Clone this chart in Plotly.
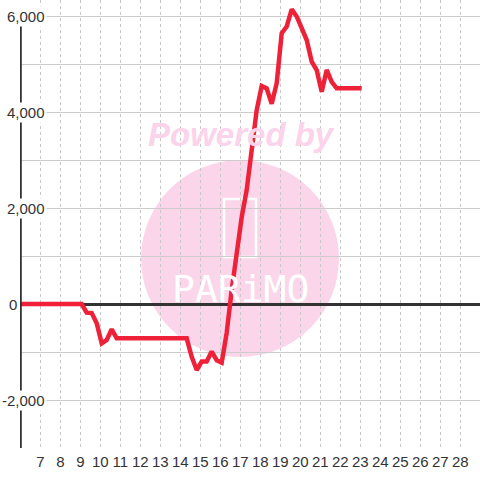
import plotly.graph_objects as go

# Data (hours of day vs value)
x_vals = [6.07, 9.07, 9.32, 9.57, 9.82, 10.07, 10.32, 10.57, 10.82, 14.32, 14.57, 14.82,
          15.07, 15.32, 15.57, 15.82, 16.07, 16.32, 16.57, 16.82, 17.07, 17.32, 17.57,
          17.82, 18.07, 18.32, 18.57, 18.82, 19.07, 19.32, 19.57, 19.82, 20.07, 20.32,
          20.57, 20.82, 21.07, 21.32, 21.57, 21.82, 23.07]
y_vals = [0, 0, -180, -190, -400, -820, -750, -527, -715, -715, -1100, -1375,
          -1200, -1200, -990, -1170, -1220, -600, 290, 1125, 1810, 2375, 3277,
          4040, 4540, 4490, 4170, 4600, 5640, 5780, 6140, 5990, 5745, 5500,
          5050, 4875, 4420, 4875, 4630, 4494, 4494]

x_ticks = list(range(7, 29))
y_label_vals = [-2000, 0, 2000, 4000, 6000]
y_label_text = [f"{v:,}" for v in y_label_vals]

L, T, B, W, H = 20, 0, 32, 480, 480
pw, ph = W - L, H - T - B

def px(x):
    return (x - L) / pw

def py(y):
    return (H - B - y) / ph

fig = go.Figure()
fig.add_trace(go.Scatter(
    x=x_vals, y=y_vals, mode="lines",
    line=dict(color="#ee2139", width=4.5),
    hoverinfo="skip"
))

shapes = [
    dict(type="circle", xref="paper", yref="paper",
         x0=px(141), x1=px(339), y0=py(160), y1=py(357),
         fillcolor="#fbd6eb", line=dict(width=0), layer="below"),
    dict(type="rect", xref="paper", yref="paper",
         x0=px(224), x1=px(256), y0=py(199), y1=py(257),
         line=dict(color="white", width=2.5), fillcolor="rgba(0,0,0,0)", layer="below"),
    # y axis line
    dict(type="line", xref="x", yref="y", x0=6, x1=6, y0=-3000, y1=6000,
         line=dict(color="#333", width=3), layer="above"),
]

annotations = [
    dict(text="<b><i>Powered by</i></b>", xref="paper", yref="paper",
         x=px(241), y=py(134), xanchor="center", yanchor="middle", showarrow=False,
         font=dict(family="Liberation Sans", size=33, color="#fbd3ea")),
    dict(text="PARiMO", xref="paper", yref="paper",
         x=px(240), y=py(289), xanchor="center", yanchor="middle", showarrow=False,
         font=dict(family="DejaVu Sans Mono", size=38, color="white")),
]
for v, t in zip(y_label_vals, y_label_text):
    right = 19 if v == 0 else 47
    annotations.append(dict(
        text=t, xref="paper", yref="y", x=px(right), y=v,
        xanchor="right", yanchor="middle", showarrow=False,
        bgcolor="white" if v != 0 else "rgba(0,0,0,0)",
        font=dict(family="Liberation Sans", size=15, color="#333")))

fig.update_layout(
    width=W, height=H,
    margin=dict(l=L, r=0, t=T, b=B, pad=0),
    paper_bgcolor="white", plot_bgcolor="white",
    showlegend=False,
    shapes=shapes, annotations=annotations,
    xaxis=dict(range=[5.985, 28.985], tickmode="array", tickvals=x_ticks,
               ticktext=[str(t) for t in x_ticks],
               showgrid=True, gridcolor="#c8c8c8", gridwidth=1, griddash="3px,3px",
               zeroline=False, showline=False, ticks="", ticklabelstandoff=3,
               tickfont=dict(family="Liberation Sans", size=15, color="#333")),
    yaxis=dict(range=[-3000, 6333.3], dtick=1000, tick0=0,
               showgrid=True, gridcolor="#cccccc", gridwidth=1,
               zeroline=True, zerolinecolor="#333", zerolinewidth=3,
               showline=False,
               showticklabels=False, ticks=""),
)

fig.write_html("out.html", config={"displayModeBar": False},
               post_script="document.body.style.margin='0';")
